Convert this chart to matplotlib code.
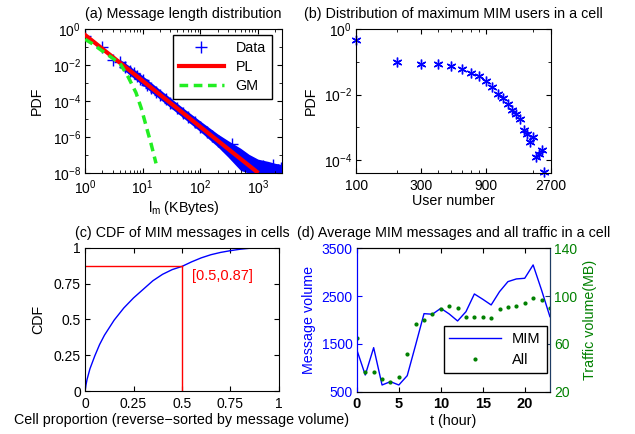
import numpy as np
import matplotlib
matplotlib.use("Agg")
import matplotlib.pyplot as plt
from matplotlib.ticker import LogLocator, NullFormatter, FixedLocator

plt.rcParams['font.family'] = ['Liberation Sans', 'DejaVu Sans']
plt.rcParams['font.size'] = 10.3
plt.rcParams['axes.titlesize'] = 10.3
plt.rcParams['axes.labelsize'] = 10.3
plt.rcParams['xtick.labelsize'] = 10
plt.rcParams['ytick.labelsize'] = 10
plt.rcParams['mathtext.fontset'] = 'custom'
plt.rcParams['mathtext.rm'] = 'Liberation Sans'
plt.rcParams['mathtext.it'] = 'Liberation Sans:italic'
plt.rcParams['mathtext.bf'] = 'Liberation Sans:bold'
plt.rcParams['xtick.direction'] = 'in'
plt.rcParams['ytick.direction'] = 'in'
plt.rcParams['xtick.top'] = True
plt.rcParams['ytick.right'] = True
plt.rcParams['xtick.major.size'] = 3.5
plt.rcParams['ytick.major.size'] = 3.5
plt.rcParams['xtick.minor.size'] = 2
plt.rcParams['ytick.minor.size'] = 2
plt.rcParams['xtick.major.pad'] = 4
plt.rcParams['ytick.major.pad'] = 3

# (a) message length distribution
data_x = [1, 2, 3, 4, 5, 6, 7, 8, 9, 10, 12, 14, 17, 20, 25, 30, 40, 50, 60, 80,
          100, 130, 160, 200, 250, 300, 350, 400, 500, 600, 700, 800, 1000, 1200,
          1500, 1800, 2200, 2500]
data_y = [0.40, 0.10, 0.020, 0.014, 0.0080, 0.0050, 0.0035, 0.0024, 0.0018, 0.0014,
          8.3e-4, 5.6e-4, 3.4e-4, 2.3e-4, 1.3e-4, 8.0e-5, 3.9e-5, 2.2e-5, 1.4e-5, 6.6e-6,
          3.7e-6, 1.9e-6, 1.1e-6, 6.4e-7, 3.6e-7, 2.3e-7, 4.0e-7, 1.1e-7, 6.2e-8, 3.9e-8,
          2.0e-8, 1.4e-8, 1.5e-8, 2.5e-8, 1.5e-8, 3.0e-8, 1.5e-8, 2.0e-8]
band_x = [4, 6, 10, 20, 50, 100, 200, 300, 500, 700, 1000, 1500, 2000, 2600]
band_hi = [0.021, 0.0085, 2.5e-3, 4.3e-4, 4.2e-5, 7.8e-6, 1.5e-6, 6.5e-7, 2.4e-7, 1.1e-7, 6e-8, 4.5e-8, 3.5e-8, 3e-8]
band_lo = [0.008, 0.0028, 7.6e-4, 1.25e-4, 1.2e-5, 2.0e-6, 2.9e-7, 8e-8, 1.4e-8, 1e-8, 1e-8, 1e-8, 1e-8, 1e-8]
pl_x = [1, 950]
pl_y = [0.47, 1.2e-8]
gm_x = [1, 1.31, 2.08, 4.04, 5.63, 7.65, 9.46, 12.2, 13.9, 17]
gm_y = [0.27, 0.16, 0.055, 0.0124, 0.0021, 2.9e-4, 3.9e-5, 2e-6, 4.5e-7, 3.5e-8]

# (b) maximum MIM users in a cell
users = [100, 200, 300, 400, 500, 600, 700, 800, 900, 1000, 1100, 1200,
         1300, 1400, 1500, 1600, 1700, 1800, 1900, 2000, 2100, 2200, 2300, 2400]
user_pdf = [0.48, 0.10, 0.083, 0.083, 0.074, 0.061, 0.047, 0.0366, 0.026, 0.0172, 0.0107, 0.0076,
            0.0053, 0.0035, 0.0025, 0.00176, 0.00081, 0.00061, 0.00036, 0.00049, 0.000124, 0.000158,
            0.00021, 4.4e-5]

# (c) CDF of MIM messages in cells
cdf_x = [0, 0.005, 0.01, 0.025, 0.05, 0.075, 0.1, 0.15, 0.2, 0.25, 0.3, 0.35, 0.4,
         0.45, 0.5, 0.55, 0.6, 0.65, 0.7, 0.75, 0.8, 0.85, 0.9, 0.95, 1.0]
cdf_y = [0, 0.045, 0.08, 0.155, 0.245, 0.325, 0.39, 0.495, 0.58, 0.65, 0.71, 0.77, 0.815,
         0.848, 0.87, 0.902, 0.930, 0.952, 0.968, 0.980, 0.990, 0.997, 1.0, 1.0, 1.0]

# (d) hourly MIM messages and traffic
hours = list(range(24))
mim = [1372, 849, 1421, 640, 710, 640, 835, 1477, 2132, 2120, 2244, 2126,
       1979, 2174, 2544, 2433, 2314, 2593, 2802, 2858, 2872, 3151, 2628, 2070]
traffic = [64.7, 36.2, 36.2, 30.3, 28.4, 32.6, 51.8, 76.4, 80.0, 85.0, 88.9, 91.7,
           90.3, 82.8, 82.2, 82.2, 81.4, 88.9, 90.6, 91.4, 94.5, 98.7, 96.7, 90.3]

fig = plt.figure(figsize=(6.35, 4.34), dpi=100)

# ---- (a)
ax = fig.add_axes([0.134, 0.601, 0.310, 0.332])
ax.fill_between(band_x, band_lo, band_hi, color='blue', lw=0, zorder=1)
ax.plot(data_x, data_y, '+', color='blue', ms=8, mew=1.0, label='Data', zorder=2)
ax.plot(pl_x, pl_y, '-', color='red', lw=3, label='PL', zorder=3)
ax.plot(gm_x, gm_y, '--', color='#22ee22', lw=2.5, dashes=(2.5, 1.6), label='GM', zorder=3)
ax.set_xscale('log')
ax.set_yscale('log')
ax.set_xlim(1, 2600)
ax.set_ylim(1e-8, 1)
ax.set_xticks([1, 10, 100, 1000])
ax.set_yticks([1e-8, 1e-6, 1e-4, 1e-2, 1])
ax.yaxis.set_minor_locator(LogLocator(base=10, subs=[1.0], numticks=20))
ax.yaxis.set_minor_formatter(NullFormatter())
ax.xaxis.set_minor_locator(LogLocator(base=10, subs=np.arange(2, 10), numticks=20))
ax.xaxis.set_minor_formatter(NullFormatter())
ax.set_title('(a) Message length distribution', pad=8)
ax.set_xlabel(r'l$_\mathrm{m}$ (KBytes)', labelpad=1)
ax.set_ylabel('PDF', labelpad=6)
leg = ax.legend(loc='upper right', bbox_to_anchor=(0.948, 0.958), fancybox=False,
                edgecolor='black', handlelength=3.2, borderaxespad=0, framealpha=1,
                labelspacing=0.35, fontsize=10.3)
leg.get_frame().set_linewidth(1.0)

# ---- (b)
ax = fig.add_axes([0.561, 0.601, 0.307, 0.332])
ax.plot(users, user_pdf, ls='none', marker=(6, 2, 0), color='blue', ms=7, mew=1.0, clip_on=False)
ax.set_xscale('log')
ax.set_yscale('log')
ax.set_xlim(100, 2700)
ax.set_ylim(10 ** -4.4, 1)
ax.xaxis.set_major_locator(FixedLocator([100, 300, 900, 2700]))
ax.set_xticklabels(['100', '300', '900', '2700'])
ax.xaxis.set_minor_locator(LogLocator(base=10, subs=np.arange(2, 10), numticks=20))
ax.xaxis.set_minor_formatter(NullFormatter())
ax.set_yticks([1e-4, 1e-2, 1])
ax.yaxis.set_minor_locator(LogLocator(base=10, subs=[1.0], numticks=20))
ax.yaxis.set_minor_formatter(NullFormatter())
ax.set_title('(b) Distribution of maximum MIM users in a cell', pad=8)
ax.set_xlabel('User number', labelpad=1)
ax.set_ylabel('PDF')

# ---- (c)
ax = fig.add_axes([0.134, 0.099, 0.305, 0.330])
ax.plot(cdf_x, cdf_y, color='blue', lw=1)
ax.plot([0, 0.5], [0.87, 0.87], color='red', lw=1)
ax.plot([0.5, 0.5], [0, 0.87], color='red', lw=1)
ax.text(0.55, 0.80, '[0.5,0.87]', color='red', va='center', ha='left', fontsize=10.5)
ax.set_xlim(0, 1)
ax.set_ylim(0, 1)
tk = [0, 0.25, 0.5, 0.75, 1]
tl = ['0', '0.25', '0.5', '0.75', '1']
ax.set_xticks(tk)
ax.set_xticklabels(tl)
ax.set_yticks(tk)
ax.set_yticklabels(tl)
ax.set_title('(c) CDF of MIM messages in cells', pad=8)
ax.set_xlabel('Cell proportion (reverse\u2212sorted by message volume)', labelpad=2)
ax.set_ylabel('CDF', labelpad=6)

# ---- (d)
ax = fig.add_axes([0.562, 0.0975, 0.304, 0.3305])
ax2 = ax.twinx()
l1, = ax.plot(hours, mim, color='blue', lw=1, label='MIM')
l2, = ax2.plot(hours, traffic, ls='none', marker='.', color='#008000', ms=4, label='All')
ax.set_xlim(0, 23)
ax.set_ylim(500, 3500)
ax.set_yticks([500, 1500, 2500, 3500])
ax2.set_ylim(20, 140)
ax2.set_yticks([20, 60, 100, 140])
ax.set_xticks([0, 5, 10, 15, 20])
ax.tick_params(axis='y', colors='blue', right=False)
ax.tick_params(axis='x', labelsize=10.5)
for lab in ax.get_xticklabels():
    lab.set_fontweight('bold')
ax2.tick_params(axis='y', colors='#008000', left=False)
ax2.tick_params(axis='y', which='both', color='#1e3c64')
ax.spines['left'].set_color('blue')
ax2.spines['left'].set_color('blue')
ax2.spines['right'].set_color('#1e3c64')
ax.set_ylabel('Message volume', color='blue')
ax2.set_ylabel('Traffic volume(MB)', color='#008000')
ax.set_xlabel('t (hour)', labelpad=2)
ax.set_title('(d) Average MIM messages and all traffic in a cell', pad=8)
leg = ax2.legend([l1, l2], ['MIM', 'All'], loc='lower right', bbox_to_anchor=(0.983, 0.132),
                 fancybox=False, edgecolor='black', handlelength=3.5, borderaxespad=0,
                 framealpha=1, fontsize=10.5)
leg.get_frame().set_linewidth(1.0)

fig.savefig('out.png', dpi=100)
